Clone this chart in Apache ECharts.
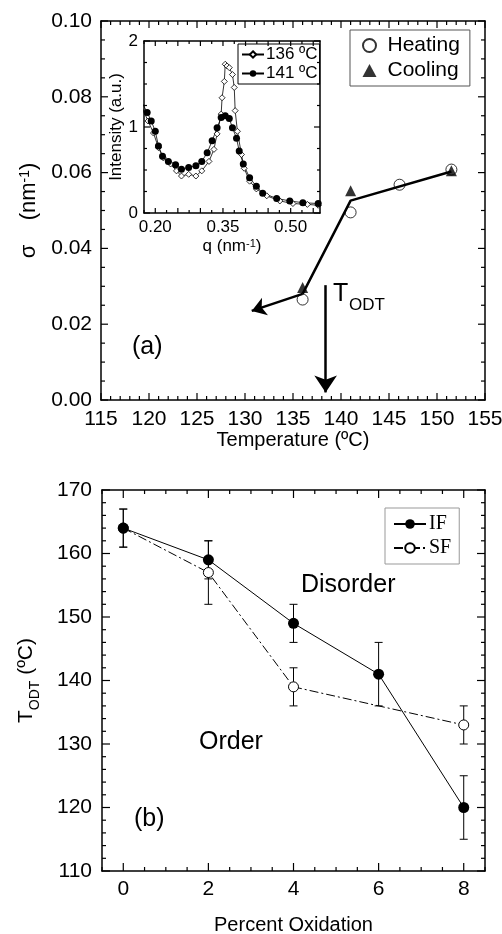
<!DOCTYPE html>
<html>
<head>
<meta charset="utf-8">
<script src="https://cdn.jsdelivr.net/npm/echarts@6/dist/echarts.min.js"></script>
<style>
  html, body { margin: 0; padding: 0; background: #fff; }
  #chart { width: 502px; height: 934px; }
</style>
</head>
<body>
<div id="chart"></div>
<script>
// (a) sigma vs temperature
const heatT = [136.0, 141.0, 146.1, 151.5];
const heatSigma = [0.0265, 0.0495, 0.0568, 0.0608];
const coolT = [136.0, 141.0, 151.5];
const coolSigma = [0.0297, 0.0552, 0.0605];
const fitT = [130.7, 136.0, 141.0, 151.5];
const fitSigma = [0.0235, 0.0280, 0.0526, 0.0603];
const todtT = 138.4;
const todtSigma = [0.0303, 0.0020];

// inset: intensity vs q
const q136 = [0.172, 0.184, 0.196, 0.207, 0.218, 0.234, 0.247, 0.258, 0.274, 0.290, 0.303, 0.319, 0.330, 0.337, 0.346, 0.348, 0.353, 0.355, 0.359, 0.364, 0.371, 0.375, 0.377, 0.382, 0.391, 0.397, 0.409, 0.424, 0.447, 0.476, 0.505, 0.537, 0.561];
const i136 = [1.21, 1.07, 0.93, 0.76, 0.64, 0.57, 0.49, 0.43, 0.45, 0.43, 0.49, 0.60, 0.74, 0.92, 1.15, 1.34, 1.53, 1.73, 1.71, 1.69, 1.61, 1.46, 1.19, 0.95, 0.68, 0.52, 0.37, 0.28, 0.20, 0.14, 0.11, 0.10, 0.09];
const q141 = [0.172, 0.182, 0.191, 0.200, 0.207, 0.216, 0.229, 0.245, 0.258, 0.274, 0.290, 0.303, 0.315, 0.326, 0.337, 0.346, 0.355, 0.364, 0.371, 0.380, 0.386, 0.395, 0.409, 0.424, 0.438, 0.469, 0.498, 0.527, 0.561];
const i141 = [1.27, 1.17, 1.07, 0.95, 0.78, 0.66, 0.60, 0.56, 0.51, 0.53, 0.55, 0.60, 0.70, 0.84, 0.99, 1.11, 1.13, 1.10, 0.99, 0.87, 0.72, 0.57, 0.41, 0.31, 0.23, 0.17, 0.14, 0.12, 0.11];
const qLabels = [0.20, 0.35, 0.50];

// (b) T_ODT vs percent oxidation
const oxIF = [0, 2, 4, 6, 8];
const todtIF = [164, 159, 149, 141, 120];
const errIF = [3, 3, 3, 5, 5];
const oxSF = [0, 2, 4, 8];
const todtSF = [164, 157, 139, 133];
const errSF = [3, 5, 3, 3];
const oxLabels = [0, 2, 4, 6, 8];

const FONT = 'Liberation Sans, Arial, sans-serif';
const zip = (a, b) => a.map((v, i) => [v, b[i]]);
const near = (v, list) => list.some(t => Math.abs(v - t) < 1e-6);

// axis ranges per panel
const R = {
  a: { x: [115, 155], y: [0, 0.1] },
  inset: { x: [0.175, 0.565], y: [0, 2] },
  b: { x: [-0.5, 8.5], y: [110, 170] }
};

// value axis; ticks are drawn by the tick series below
function axis(o) {
  const a = {
    type: 'value',
    gridIndex: o.grid,
    position: o.pos,
    min: o.r[0], max: o.r[1],
    interval: o.interval,
    axisLine: { show: true, onZero: false, lineStyle: { color: '#000', width: 1.5 } },
    axisTick: { show: false },
    splitLine: { show: false },
    axisLabel: {
      show: !!o.label, color: '#000', fontFamily: FONT, fontSize: o.fs || 21,
      margin: o.margin || 9
    },
    z: 5
  };
  if (o.fmt) a.axisLabel.formatter = o.fmt;
  if (o.name) {
    a.name = o.name;
    a.nameLocation = 'middle';
    a.nameGap = o.gap;
    a.nameTextStyle = Object.assign({ color: '#000', fontFamily: FONT, fontSize: o.nfs || 20 }, o.nts || {});
  }
  return a;
}

const qFmt = v => near(v, qLabels) ? v.toFixed(2) : '';
const oxFmt = v => near(v, oxLabels) ? String(Math.round(v)) : '';

const xAxes = [
  axis({ grid: 0, pos: 'bottom', r: R.a.x, interval: 5, label: true, name: 'Temperature (ºC)', gap: 30 }),
  axis({ grid: 0, pos: 'top', r: R.a.x, interval: 5 }),
  axis({ grid: 1, pos: 'bottom', r: R.inset.x, interval: 0.025, label: true, fs: 17, margin: 6,
    fmt: qFmt, name: 'q (nm{p|-1})', gap: 25, nfs: 17,
    nts: { rich: { p: { fontSize: 11, verticalAlign: 'top', fontFamily: FONT, color: '#000' } } } }),
  axis({ grid: 1, pos: 'top', r: R.inset.x, interval: 0.025 }),
  axis({ grid: 2, pos: 'bottom', r: R.b.x, interval: 0.5, label: true, margin: 8,
    fmt: oxFmt, name: 'Percent Oxidation', gap: 44 }),
  axis({ grid: 2, pos: 'top', r: R.b.x, interval: 0.5 })
];

const yAxes = [
  axis({ grid: 0, pos: 'left', r: R.a.y, interval: 0.02, label: true,
    fmt: v => v.toFixed(2), name: 'σ    (nm{p|-1})', gap: 60, nfs: 22,
    nts: { rich: { p: { fontSize: 14, verticalAlign: 'top', fontFamily: FONT, color: '#000' } } } }),
  axis({ grid: 0, pos: 'right', r: R.a.y, interval: 0.02 }),
  axis({ grid: 1, pos: 'left', r: R.inset.y, interval: 1, label: true, fs: 17, margin: 6,
    name: 'Intensity (a.u.)', gap: 11, nfs: 17 }),
  axis({ grid: 1, pos: 'right', r: R.inset.y, interval: 1 }),
  axis({ grid: 2, pos: 'left', r: R.b.y, interval: 10, label: true, margin: 10,
    name: '{t|T}{s|ODT}{t| (ºC)}', gap: 60,
    nts: { rich: {
      t: { fontSize: 21, fontFamily: FONT, color: '#000', lineHeight: 26, verticalAlign: 'top' },
      s: { fontSize: 14, fontFamily: FONT, color: '#000', lineHeight: 26, verticalAlign: 'bottom' } } } }),
  axis({ grid: 2, pos: 'right', r: R.b.y, interval: 10 })
];

// tick list: every `step` from lo to hi, longer at multiples of `major`
function tickList(lo, hi, step, major, longLen, shortLen) {
  const out = [];
  const n = Math.round((hi - lo) / step);
  for (let k = 0; k <= n; k++) {
    const v = +(lo + k * step).toFixed(6);
    if (v > hi + 1e-9) break;
    const isMajor = Math.abs(v / major - Math.round(v / major)) < 1e-6;
    out.push([v, isMajor ? longLen : shortLen]);
  }
  return out;
}

// inward ticks on both edges, placed through the axis scales
function tickSeries(idx, r, xt, yt) {
  const st = { stroke: '#000', lineWidth: 1.2 };
  return [
    {
      type: 'custom', name: 'xticks' + idx, xAxisIndex: idx, yAxisIndex: idx, silent: true, z: 6, clip: false,
      data: xt.map(t => [t[0], r.y[0], t[1]]),
      renderItem: (params, api) => {
        const len = api.value(2);
        const b = api.coord([api.value(0), r.y[0]]);
        const t = api.coord([api.value(0), r.y[1]]);
        return { type: 'group', children: [
          { type: 'line', shape: { x1: b[0], y1: b[1], x2: b[0], y2: b[1] - len }, style: st },
          { type: 'line', shape: { x1: t[0], y1: t[1], x2: t[0], y2: t[1] + len }, style: st }
        ] };
      }
    },
    {
      type: 'custom', name: 'yticks' + idx, xAxisIndex: idx, yAxisIndex: idx, silent: true, z: 6, clip: false,
      data: yt.map(t => [r.x[0], t[0], t[1]]),
      renderItem: (params, api) => {
        const len = api.value(2);
        const l = api.coord([r.x[0], api.value(1)]);
        const rr = api.coord([r.x[1], api.value(1)]);
        return { type: 'group', children: [
          { type: 'line', shape: { x1: l[0], y1: l[1], x2: l[0] + len, y2: l[1] }, style: st },
          { type: 'line', shape: { x1: rr[0], y1: rr[1], x2: rr[0] - len, y2: rr[1] }, style: st }
        ] };
      }
    }
  ];
}

function errorBars(name, xs, ys, es) {
  return {
    type: 'custom', name: name + ' err', xAxisIndex: 4, yAxisIndex: 4, silent: true, z: 2,
    data: xs.map((x, i) => [x, ys[i] - es[i], ys[i] + es[i]]),
    renderItem: (params, api) => {
      const lo = api.coord([api.value(0), api.value(1)]);
      const hi = api.coord([api.value(0), api.value(2)]);
      const w = 4;
      const st = { stroke: '#000', lineWidth: 1 };
      return { type: 'group', children: [
        { type: 'line', shape: { x1: lo[0], y1: lo[1], x2: hi[0], y2: hi[1] }, style: st },
        { type: 'line', shape: { x1: lo[0] - w, y1: lo[1], x2: lo[0] + w, y2: lo[1] }, style: st },
        { type: 'line', shape: { x1: hi[0] - w, y1: hi[1], x2: hi[0] + w, y2: hi[1] }, style: st }
      ] };
    }
  };
}

const option = {
  animation: false,
  backgroundColor: '#fff',
  grid: [
    { left: 101, top: 21, width: 384, height: 379, outerBoundsMode: 'none' },
    { left: 144, top: 41, width: 176, height: 172, outerBoundsMode: 'none', show: true, backgroundColor: '#fff', borderWidth: 0 },
    { left: 102, top: 490, width: 383, height: 381, outerBoundsMode: 'none' }
  ],
  xAxis: xAxes,
  yAxis: yAxes,
  legend: [
    { data: ['Heating', 'Cooling'], orient: 'vertical', left: 350, top: 30, padding: [5, 10, 5, 12],
      itemWidth: 14, itemHeight: 13, itemGap: 4, borderColor: '#555', borderWidth: 1,
      textStyle: { fontFamily: FONT, fontSize: 21, color: '#000', padding: [0, 0, 0, 6] } },
    { data: ['136 ºC', '141 ºC'], orient: 'vertical', left: 238, top: 44, padding: [2, 2, 2, 3],
      itemWidth: 22, itemHeight: 8, itemGap: 2, borderColor: '#000', borderWidth: 1,
      textStyle: { fontFamily: FONT, fontSize: 17, color: '#000', padding: [0, 0, 0, -3] } },
    { data: ['IF', 'SF'], orient: 'vertical', left: 385, top: 508, padding: [6, 8, 6, 8],
      itemWidth: 32, itemHeight: 12, itemGap: 4, borderColor: '#999', borderWidth: 1,
      textStyle: { fontFamily: 'Liberation Serif, Times New Roman, serif', fontSize: 20, color: '#000', padding: [0, 0, 0, -2] } }
  ],
  graphic: [
    { type: 'text', left: 132, top: 335, style: { text: '(a)', font: '25px ' + FONT, fill: '#000' } },
    { type: 'text', left: 333, top: 282, style: { text: 'T', font: '25px ' + FONT, fill: '#000' } },
    { type: 'text', left: 349, top: 297, style: { text: 'ODT', font: '17px ' + FONT, fill: '#000' } },
    { type: 'text', left: 301, top: 573, style: { text: 'Disorder', font: '25px ' + FONT, fill: '#000' } },
    { type: 'text', left: 199, top: 730, style: { text: 'Order', font: '25px ' + FONT, fill: '#000' } },
    { type: 'text', left: 134, top: 807, style: { text: '(b)', font: '25px ' + FONT, fill: '#000' } }
  ],
  series: [
    ...tickSeries(0, R.a, tickList(115, 155, 1, 5, 7, 4), tickList(0, 0.1, 0.005, 0.02, 7, 4)),
    ...tickSeries(2, R.inset, tickList(0.175, 0.55, 0.025, 0.05, 5, 3), tickList(0, 2, 0.25, 1, 6, 3)),
    ...tickSeries(4, R.b, tickList(-0.5, 8.5, 0.5, 2, 8, 4), tickList(110, 170, 2, 10, 8, 4)),
    {
      type: 'line', name: 'fit', xAxisIndex: 0, yAxisIndex: 0, data: zip(fitT, fitSigma).slice(1),
      symbol: 'none', lineStyle: { color: '#000', width: 2.5 }, z: 3, silent: true,
      markLine: {
        silent: true, animation: false, label: { show: false },
        lineStyle: { color: '#000', width: 2.5, type: 'solid' },
        data: [
          [{ coord: [fitT[1], fitSigma[1]], symbol: 'none' },
           { coord: [fitT[0], fitSigma[0]], symbol: 'arrow', symbolSize: 14 }],
          [{ coord: [todtT, todtSigma[0]], symbol: 'none' },
           { coord: [todtT, todtSigma[1]], symbol: 'arrow', symbolSize: 17 }]
        ]
      }
    },
    {
      type: 'scatter', name: 'Heating', xAxisIndex: 0, yAxisIndex: 0, data: zip(heatT, heatSigma),
      symbol: 'circle', symbolSize: 11, z: 4,
      itemStyle: { color: 'rgba(255,255,255,0)', borderColor: '#000', borderWidth: 1 }
    },
    {
      type: 'scatter', name: 'Cooling', xAxisIndex: 0, yAxisIndex: 0, data: zip(coolT, coolSigma),
      symbol: 'triangle', symbolSize: 11, z: 4, itemStyle: { color: '#000' }
    },
    {
      type: 'line', name: '136 ºC', xAxisIndex: 2, yAxisIndex: 2, data: zip(q136, i136),
      symbol: 'diamond', symbolSize: 6, showAllSymbol: true, z: 3,
      lineStyle: { color: '#000', width: 0.8 },
      itemStyle: { color: '#fff', borderColor: '#000', borderWidth: 0.8 }
    },
    {
      type: 'line', name: '141 ºC', xAxisIndex: 2, yAxisIndex: 2, data: zip(q141, i141),
      symbol: 'circle', symbolSize: 7, showAllSymbol: true, z: 3,
      lineStyle: { color: '#000', width: 0.8 },
      itemStyle: { color: '#000' }
    },
    errorBars('IF', oxIF, todtIF, errIF),
    errorBars('SF', oxSF, todtSF, errSF),
    {
      type: 'line', name: 'IF', xAxisIndex: 4, yAxisIndex: 4, data: zip(oxIF, todtIF),
      symbol: 'circle', symbolSize: 11, z: 4,
      lineStyle: { color: '#000', width: 1 }, itemStyle: { color: '#000' }
    },
    {
      type: 'line', name: 'SF', xAxisIndex: 4, yAxisIndex: 4, data: zip(oxSF, todtSF),
      symbol: 'circle', symbolSize: 10, z: 3,
      lineStyle: { color: '#000', width: 1, type: [9, 3, 2, 3] },
      itemStyle: { color: '#fff', borderColor: '#000', borderWidth: 1 }
    }
  ]
};

const chart = echarts.init(document.getElementById('chart'));
chart.setOption(option);
</script>
</body>
</html>
